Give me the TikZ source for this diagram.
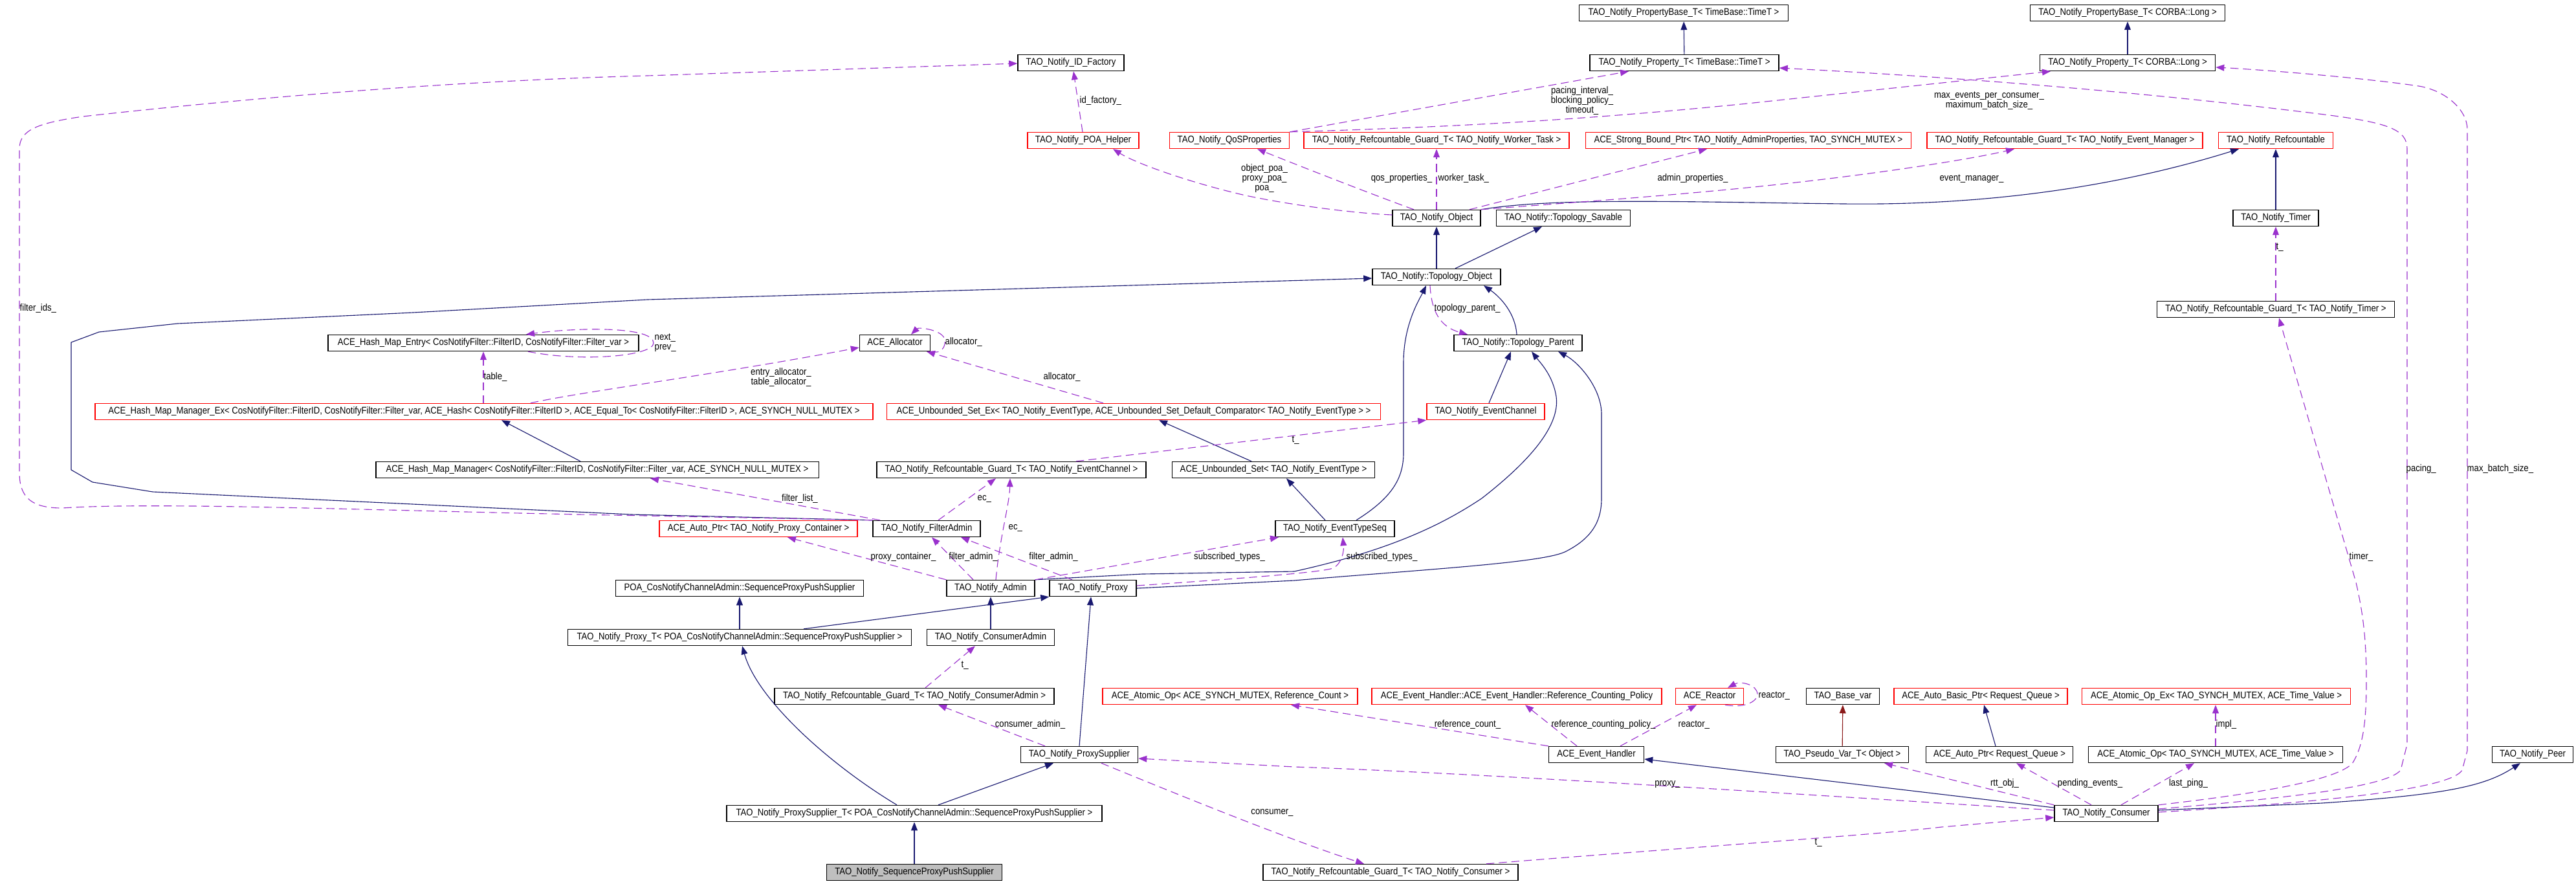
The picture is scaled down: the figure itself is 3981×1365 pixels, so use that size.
\documentclass[tikz,border=0pt]{standalone}
\usepackage{fontspec}
\setmainfont{Liberation Sans}[FakeStretch=0.88]
\usetikzlibrary{arrows.meta}
\definecolor{dxnavy}{HTML}{191970}
\definecolor{dxpurple}{HTML}{9A32CD}
\definecolor{dxred}{HTML}{FF0000}
\definecolor{dxbrown}{HTML}{8B1A1A}
\definecolor{dxgray}{HTML}{BFBFBF}
\begin{document}
\begin{tikzpicture}[
  x=0.01cm, y=-0.01cm,
  font=\fontsize{4.25pt}{4.27pt}\selectfont,
  cb/.style={rectangle, draw=black, line width=0.4pt, minimum height=0.25cm,
    inner xsep=0.05cm, inner ysep=0pt, minimum width=#1},
  rb/.style={cb=#1, draw=dxred},
  gb/.style={cb=#1, fill=dxgray},
  inh/.style={draw=dxnavy, line width=0.32pt, -{Triangle[length=3.7pt,width=2.8pt]}},
  pinh/.style={inh, draw=dxbrown},
  rel/.style={draw=dxpurple, line width=0.32pt, dash pattern=on 3.5pt off 2pt,
    -{Triangle[length=3.7pt,width=2.8pt]}},
  lab/.style={align=center, inner sep=0pt}
]
\useasboundingbox (0,0) rectangle (3981,1365);

\node[cb=3.23cm] (pbt) at (2602,20) {TAO\_Notify\_PropertyBase\_T< TimeBase::TimeT >};
\node[cb=3.01cm] (pbl) at (3288,20) {TAO\_Notify\_PropertyBase\_T< CORBA::Long >};
\node[cb=2.92cm] (ptt) at (2603,97) {TAO\_Notify\_Property\_T< TimeBase::TimeT >};
\node[cb=2.71cm] (ptl) at (3288,97) {TAO\_Notify\_Property\_T< CORBA::Long >};
\node[cb=1.64cm] (idf) at (1655,97) {TAO\_Notify\_ID\_Factory};

\node[rb=1.72cm] (poa) at (1674,217) {TAO\_Notify\_POA\_Helper};
\node[rb=1.85cm] (qos) at (1900,217) {TAO\_Notify\_QoSProperties};
\node[rb=4.10cm] (rgwt) at (2220,217) {TAO\_Notify\_Refcountable\_Guard\_T< TAO\_Notify\_Worker\_Task >};
\node[rb=5.03cm] (sbp) at (2702,217) {ACE\_Strong\_Bound\_Ptr< TAO\_Notify\_AdminProperties, TAO\_SYNCH\_MUTEX >};
\node[rb=4.26cm] (rgem) at (3191,217) {TAO\_Notify\_Refcountable\_Guard\_T< TAO\_Notify\_Event\_Manager >};
\node[rb=1.77cm] (rc) at (3517,217) {TAO\_Notify\_Refcountable};

\node[cb=1.36cm] (obj) at (2220,337) {TAO\_Notify\_Object};
\node[cb=2.07cm] (sav) at (2416,337) {TAO\_Notify::Topology\_Savable};
\node[cb=1.32cm] (tmr) at (3517,337) {TAO\_Notify\_Timer};
\node[cb=1.98cm] (topo) at (2220,428) {TAO\_Notify::Topology\_Object};
\node[cb=3.67cm] (rgt) at (3517,478) {TAO\_Notify\_Refcountable\_Guard\_T< TAO\_Notify\_Timer >};

\node[cb=4.80cm] (hme) at (747,530) {ACE\_Hash\_Map\_Entry< CosNotifyFilter::FilterID, CosNotifyFilter::Filter\_var >};
\node[cb=1.09cm] (alloc) at (1383,530) {ACE\_Allocator};
\node[cb=1.98cm] (par) at (2346,530) {TAO\_Notify::Topology\_Parent};

\node[rb=12.01cm] (hmmx) at (748,636) {ACE\_Hash\_Map\_Manager\_Ex< CosNotifyFilter::FilterID, CosNotifyFilter::Filter\_var, ACE\_Hash< CosNotifyFilter::FilterID >, ACE\_Equal\_To< CosNotifyFilter::FilterID >, ACE\_SYNCH\_NULL\_MUTEX >};
\node[rb=7.62cm] (usx) at (1752,636) {ACE\_Unbounded\_Set\_Ex< TAO\_Notify\_EventType, ACE\_Unbounded\_Set\_Default\_Comparator< TAO\_Notify\_EventType > >};
\node[rb=1.82cm] (ec) at (2296,636) {TAO\_Notify\_EventChannel};

\node[cb=6.84cm] (hmm) at (923,726) {ACE\_Hash\_Map\_Manager< CosNotifyFilter::FilterID, CosNotifyFilter::Filter\_var, ACE\_SYNCH\_NULL\_MUTEX >};
\node[cb=4.16cm] (rgec) at (1563,726) {TAO\_Notify\_Refcountable\_Guard\_T< TAO\_Notify\_EventChannel >};
\node[cb=3.13cm] (us) at (1968,726) {ACE\_Unbounded\_Set< TAO\_Notify\_EventType >};

\node[rb=3.06cm] (apc) at (1172,817) {ACE\_Auto\_Ptr< TAO\_Notify\_Proxy\_Container >};
\node[cb=1.66cm] (fa) at (1432,817) {TAO\_Notify\_FilterAdmin};
\node[cb=1.84cm] (ets) at (2063,817) {TAO\_Notify\_EventTypeSeq};

\node[cb=3.83cm] (poas) at (1143,909) {POA\_CosNotifyChannelAdmin::SequenceProxyPushSupplier};
\node[cb=1.36cm] (adm) at (1531,909) {TAO\_Notify\_Admin};
\node[cb=1.34cm] (prx) at (1689,909) {TAO\_Notify\_Proxy};
\node[cb=5.31cm] (prxt) at (1143,985) {TAO\_Notify\_Proxy\_T< POA\_CosNotifyChannelAdmin::SequenceProxyPushSupplier >};
\node[cb=1.97cm] (cadm) at (1531,985) {TAO\_Notify\_ConsumerAdmin};

\node[cb=4.32cm] (rgca) at (1413,1076) {TAO\_Notify\_Refcountable\_Guard\_T< TAO\_Notify\_ConsumerAdmin >};
\node[rb=3.94cm] (aorc) at (1901,1076) {ACE\_Atomic\_Op< ACE\_SYNCH\_MUTEX, Reference\_Count >};
\node[rb=4.48cm] (ehp) at (2344,1076) {ACE\_Event\_Handler::ACE\_Event\_Handler::Reference\_Counting\_Policy};
\node[rb=1.05cm] (rea) at (2642,1076) {ACE\_Reactor};
\node[cb=1.13cm] (bvar) at (2848,1076) {TAO\_Base\_var};
\node[rb=2.68cm] (abp) at (3061,1076) {ACE\_Auto\_Basic\_Ptr< Request\_Queue >};
\node[rb=4.15cm] (aoex) at (3425,1076) {ACE\_Atomic\_Op\_Ex< TAO\_SYNCH\_MUTEX, ACE\_Time\_Value >};

\node[cb=1.81cm] (ps) at (1668,1166) {TAO\_Notify\_ProxySupplier};
\node[cb=1.47cm] (eh) at (2467,1166) {ACE\_Event\_Handler};
\node[cb=2.05cm] (pvar) at (2847,1166) {TAO\_Pseudo\_Var\_T< Object >};
\node[cb=2.27cm] (aprq) at (3090,1166) {ACE\_Auto\_Ptr< Request\_Queue >};
\node[cb=3.93cm] (aop) at (3424,1166) {ACE\_Atomic\_Op< TAO\_SYNCH\_MUTEX, ACE\_Time\_Value >};
\node[cb=1.25cm] (peer) at (3914,1166) {TAO\_Notify\_Peer};

\node[cb=5.80cm] (pst) at (1413,1257) {TAO\_Notify\_ProxySupplier\_T< POA\_CosNotifyChannelAdmin::SequenceProxyPushSupplier >};
\node[cb=1.60cm] (con) at (3255,1257) {TAO\_Notify\_Consumer};
\node[gb=2.71cm] (spps) at (1413,1348) {TAO\_Notify\_SequenceProxyPushSupplier};
\node[cb=3.94cm] (rgc) at (2149,1348) {TAO\_Notify\_Refcountable\_Guard\_T< TAO\_Notify\_Consumer >};

\draw[inh] (ptt) -- (pbt);
\draw[inh] (ptl) -- (pbl);
\draw[inh] (obj.north east) .. controls (2400,305) and (2600,312) .. (2850,315) .. controls (3100,318) and (3300,280) .. (rc.south -| 3460,0);
\draw[inh] (tmr) -- (rc);
\draw[inh] (topo) -- (obj);
\draw[inh] (topo.north -| 2249,0) -- (sav.south -| 2383,0);
\draw[inh] (par.north -| 2344,0) .. controls (2342,485) and (2320,460) .. (topo.south -| 2293,0);
\draw[inh] (hmm.north -| 897,0) -- (hmmx.south -| 775,0);
\draw[inh] (us.north -| 1934,0) -- (usx.south -| 1791,0);
\draw[inh] (ec.north -| 2301,0) -- (par.south -| 2335,0);
\draw[inh] (ets.north -| 2048,0) -- (us.south -| 1988,0);
\draw[inh] (ets.north -| 2096,0) .. controls (2150,770) and (2169,740) .. (2169,700) -- (2169,560) .. controls (2169,500) and (2195,460) .. (topo.south -| 2204,0);
\draw[inh] (adm.north east) -- (1765,887) -- (2000,883) .. controls (2150,850) and (2230,810) .. (2290,770) .. controls (2380,700) and (2410,650) .. (2405,613) .. controls (2400,580) and (2380,560) .. (par.south -| 2367,0);
\draw[inh] (prx.east) -- (2000,897) .. controls (2200,880) and (2380,870) .. (2418,853) .. controls (2465,830) and (2475,800) .. (2475,770) -- (2475,640) .. controls (2475,600) and (2440,560) .. (par.south -| 2408,0);
\draw[inh] (fa.north west) -- (976,795) -- (236,760) -- (143,745) -- (110,726) -- (110,529) -- (153,513) -- (274,500) -- (638,483) -- (1000,463) -- (topo.west |- 0,430);
\draw[inh] (prxt) -- (poas);
\draw[inh] (prxt.north -| 1242,0) -- (prx.south west);
\draw[inh] (cadm) -- (adm);
\draw[inh] (ps.north -| 1668,0) -- (prx.south -| 1686,0);
\draw[inh] (pst.north -| 1386,0) .. controls (1280,1180) and (1170,1080) .. (prxt.south -| 1147,0);
\draw[inh] (pst.north -| 1450,0) -- (ps.south -| 1628,0);
\draw[inh] (spps) -- (pst);
\draw[pinh] (pvar) -- (bvar);
\draw[inh] (aprq.north -| 3084,0) -- (abp.south -| 3066,0);
\draw[inh] (con.west |- 0,1248) -- (eh.east |- 0,1173);
\draw[inh] (con.east |- 0,1252) -- (3588,1241) .. controls (3780,1228) and (3840,1215) .. (peer.south -| 3895,0);

\draw[rel] (fa.north west) -- (1000,797) .. controls (600,790) and (250,775) .. (96,785) .. controls (50,785) and (30,770) .. (30,730) -- (30,230) .. controls (30,200) and (60,190) .. (128,180) .. controls (400,150) and (700,125) .. (1000,117) -- (idf.west |- 0,98);
\draw[rel] (poa.north -| 1673,0) -- (idf.south -| 1659,0);
\draw[rel] (qos.north east) -- (ptt.south -| 2517,0);
\draw[rel] (qos.north east) .. controls (2300,195) and (2500,180) .. (2700,160) -- (ptl.south -| 3169,0);
\draw[rel] (con.north east) .. controls (3500,1225) and (3610,1205) .. (3635,1180) .. controls (3655,1150) and (3657,1100) .. (3657,1050) .. controls (3657,980) and (3650,940) .. (3641,900) -- (rgt.south -| 3522,0);
\draw[rel] (con.east |- 0,1250) .. controls (3550,1232) and (3690,1215) .. (3710,1190) -- (3720,1150) -- (3720,230) .. controls (3720,200) and (3690,190) .. (3600,178) .. controls (3300,140) and (3000,118) .. (ptt.east |- 0,105);
\draw[rel] (con.east |- 0,1255) .. controls (3650,1236) and (3790,1215) .. (3805,1190) -- (3813,1160) -- (3813,200) .. controls (3813,170) and (3780,140) .. (3738,133) .. controls (3650,120) and (3500,108) .. (ptl.east |- 0,104);
\draw[rel] (rgt) -- (tmr);
\draw[rel] (obj.west |- 0,332) .. controls (2100,330) and (2000,318) .. (1925,302) .. controls (1850,285) and (1760,255) .. (poa.south -| 1720,0);
\draw[rel] (obj.north -| 2185,0) .. controls (2120,300) and (2030,265) .. (qos.south -| 1943,0);
\draw[rel] (obj) -- (rgwt);
\draw[rel] (obj.north -| 2271,0) -- (sbp.south -| 2638,0);
\draw[rel] (obj.north east) .. controls (2400,315) and (2550,305) .. (2700,290) .. controls (2900,270) and (3050,245) .. (rgem.south -| 3113,0);
\draw[rel] (topo.south -| 2210,0) .. controls (2212,480) and (2225,505) .. (par.north -| 2268,0);
\draw[rel] (hme.south -| 816,0) .. controls (900,560) and (1010,550) .. (1010,530) .. controls (1010,505) and (900,505) .. (hme.north -| 813,0);
\draw[rel] (hmmx.north -| 747,0) -- (hme.south -| 747,0);
\draw[rel] (hmmx.north -| 820,0) .. controls (900,605) and (1100,580) .. (alloc.west |- 0,537);
\draw[rel] (alloc.south east) .. controls (1455,548) and (1462,535) .. (1460,525) .. controls (1458,510) and (1420,505) .. (alloc.north -| 1408,0);
\draw[rel] (usx.north -| 1705,0) -- (alloc.south -| 1432,0);
\draw[rel] (rgec.north -| 1663,0) -- (ec.south west);
\draw[rel] (fa.north -| 1360,0) -- (hmm.south -| 1005,0);
\draw[rel] (fa.north -| 1450,0) -- (rgec.south -| 1539,0);
\draw[rel] (adm.north -| 1539,0) .. controls (1545,830) and (1560,780) .. (rgec.south -| 1561,0);
\draw[rel] (adm.north west) -- (apc.south -| 1217,0);
\draw[rel] (adm.north -| 1504,0) -- (fa.south -| 1440,0);
\draw[rel] (prx.north -| 1657,0) -- (fa.south -| 1485,0);
\draw[rel] (adm.north east) -- (ets.south -| 1976,0);
\draw[rel] (prx.east |- 0,905) .. controls (1900,895) and (2040,885) .. (2060,878) .. controls (2075,870) and (2077,850) .. (ets.south -| 2075,0);
\draw[rel] (rgca.north -| 1430,0) -- (cadm.south -| 1507,0);
\draw[rel] (ps.north -| 1615,0) -- (rgca.south -| 1450,0);
\draw[rel] (eh.north west) -- (aorc.south -| 1995,0);
\draw[rel] (eh.north -| 2437,0) -- (ehp.south -| 2357,0);
\draw[rel] (eh.north -| 2504,0) -- (rea.south -| 2622,0);
\draw[rel] (rea.south -| 2666,0) .. controls (2700,1095) and (2716,1082) .. (2716,1073) .. controls (2716,1058) and (2690,1052) .. (rea.north -| 2670,0);
\draw[rel] (con.north west) -- (pvar.south -| 2912,0);
\draw[rel] (con.north -| 3232,0) -- (aprq.south -| 3116,0);
\draw[rel] (con.north -| 3278,0) -- (aop.south -| 3391,0);
\draw[rel] (aop.north -| 3424,0) -- (aoex.south -| 3424,0);
\draw[rel] (con.west |- 0,1252) .. controls (2900,1235) and (2300,1195) .. (2000,1185) -- (ps.east |- 0,1172);
\draw[rel] (ps.south -| 1702,0) .. controls (1850,1240) and (2000,1300) .. (rgc.north -| 2108,0);
\draw[rel] (rgc.north -| 2297,0) .. controls (2600,1310) and (2900,1290) .. (3000,1278) -- (con.west |- 0,1263);

\node[lab] (l-pacing) at (2445,156) {pacing\_interval\_\\blocking\_policy\_\\timeout\_};
\node[lab] (l-maxev) at (3074,156) {max\_events\_per\_consumer\_\\maximum\_batch\_size\_};
\node[lab, anchor=west] (l-idf) at (1668,156) {id\_factory\_};
\node[lab] (l-poa) at (1954,276) {object\_poa\_\\proxy\_poa\_\\poa\_};
\node[lab] (l-qos) at (2166,276) {qos\_properties\_};
\node[lab, anchor=west] (l-wt) at (2222,276) {worker\_task\_};
\node[lab] (l-adm) at (2616,276) {admin\_properties\_};
\node[lab] (l-em) at (3047,276) {event\_manager\_};
\node[lab, anchor=west] (l-tt) at (3517,382) {t\_};
\node[lab, anchor=west] (l-fid) at (30,477) {filter\_ids\_};
\node[lab, anchor=west] (l-tp) at (2216,477) {topology\_parent\_};
\node[lab, align=left, anchor=west] (l-np) at (1011,530) {next\_\\prev\_};
\node[lab, anchor=west] (l-al1) at (1460,529) {allocator\_};
\node[lab] (l-eal) at (1207,583) {entry\_allocator\_\\table\_allocator\_};
\node[lab, anchor=west] (l-tab) at (747,583) {table\_};
\node[lab] (l-al2) at (1641,583) {allocator\_};
\node[lab, anchor=west] (l-tec) at (1996,680) {t\_};
\node[lab, anchor=west] (l-tim) at (3630,861) {timer\_};
\node[lab, anchor=west] (l-pc) at (3718,725) {pacing\_};
\node[lab, anchor=west] (l-mbs) at (3812,725) {max\_batch\_size\_};
\node[lab] (l-fl) at (1236,771) {filter\_list\_};
\node[lab, anchor=west] (l-ec1) at (1510,771) {ec\_};
\node[lab, anchor=west] (l-ec2) at (1558,816) {ec\_};
\node[lab] (l-pcn) at (1396,861) {proxy\_container\_};
\node[lab] (l-fa1) at (1504,861) {filter\_admin\_};
\node[lab] (l-fa2) at (1628,861) {filter\_admin\_};
\node[lab] (l-st1) at (1900,861) {subscribed\_types\_};
\node[lab, anchor=west] (l-st2) at (2080,861) {subscribed\_types\_};
\node[lab, anchor=west] (l-tca) at (1485,1028) {t\_};
\node[lab] (l-ca) at (1592,1120) {consumer\_admin\_};
\node[lab] (l-rc) at (2268,1120) {reference\_count\_};
\node[lab] (l-rcp) at (2478,1120) {reference\_counting\_policy\_};
\node[lab, anchor=west] (l-re1) at (2593,1120) {reactor\_};
\node[lab, anchor=west] (l-re2) at (2717,1075) {reactor\_};
\node[lab, anchor=west] (l-impl) at (3424,1120) {impl\_};
\node[lab] (l-rtt) at (3098,1211) {rtt\_obj\_};
\node[lab] (l-pe) at (3230,1211) {pending\_events\_};
\node[lab] (l-lp) at (3382,1211) {last\_ping\_};
\node[lab] (l-px) at (2577,1212) {proxy\_};
\node[lab] (l-cons) at (1966,1256) {consumer\_};
\node[lab, anchor=west] (l-tc) at (2804,1302) {t\_};
\end{tikzpicture}
\end{document}
